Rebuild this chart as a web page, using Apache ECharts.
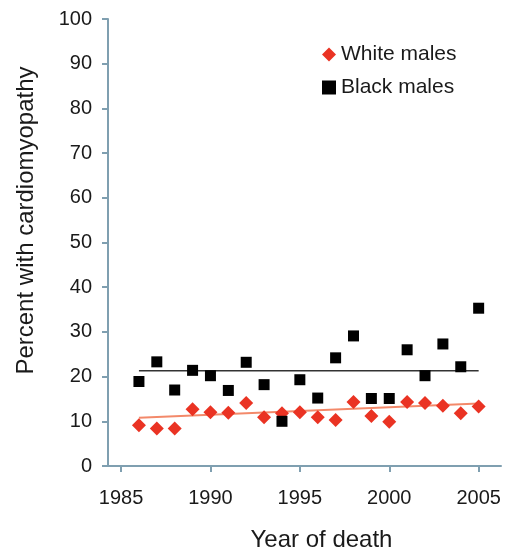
<!DOCTYPE html>
<html><head><meta charset="utf-8">
<script src="https://cdn.jsdelivr.net/npm/echarts@6/dist/echarts.min.js"></script>
<style>html,body{margin:0;padding:0;background:#fff}#c{width:514px;height:557px}</style>
</head><body><div id="c"></div>
<script>
const years = [1986,1987,1988,1989,1990,1991,1992,1993,1994,1995,1996,1997,1998,1999,2000,2001,2002,2003,2004,2005];
const whiteMales = [9.1,8.4,8.4,12.7,12.0,11.9,14.1,10.9,11.8,12.0,10.9,10.3,14.3,11.2,9.9,14.3,14.1,13.5,11.8,13.3];
const blackMales = [18.9,23.3,17.0,21.4,20.2,16.9,23.2,18.2,10.0,19.3,15.2,24.2,29.1,15.1,15.1,26.0,20.2,27.3,22.2,35.3];
const whiteTrend = [[1986,10.8],[2005,14.0]];
const blackTrend = [[1986,21.3],[2005,21.3]];
const xTicks = [1985,1990,1995,2000,2005];

const axisColor = '#7f9fb0';
const font = 'Liberation Sans, Arial, sans-serif';
const txt = '#1a1a1a';
const chart = echarts.init(document.getElementById('c'));
chart.setOption({
  animation:false,
  backgroundColor:'#fff',
  grid:{left:108,top:19,right:13,bottom:87,containLabel:false},
  legend:{
    data:[{name:'White males',icon:'diamond'},{name:'Black males',icon:'rect'}],
    orient:'vertical', left:317, top:39, itemWidth:14, itemHeight:14, itemGap:12,
    textStyle:{fontFamily:font,fontSize:21,color:txt}
  },
  xAxis:{
    type:'value', min:1984.27, max:2006.25,
    splitLine:{show:false},
    axisLine:{lineStyle:{color:axisColor,width:2}},
    axisTick:{show:true,customValues:xTicks,length:6,lineStyle:{color:axisColor,width:2}},
    axisLabel:{customValues:xTicks,margin:22,fontFamily:font,fontSize:20,color:txt,
      formatter:v=>String(v)},
    name:'Year of death', nameLocation:'middle', nameGap:62,
    nameTextStyle:{fontFamily:font,fontSize:24,color:txt,padding:[0,0,0,34]}
  },
  yAxis:{
    type:'value', min:0, max:100, interval:10,
    splitLine:{show:false},
    axisLine:{show:true,lineStyle:{color:axisColor,width:2}},
    axisTick:{show:true,length:6,lineStyle:{color:axisColor,width:2}},
    axisLabel:{margin:16,fontFamily:font,fontSize:20,color:txt},
    name:'Percent with cardiomyopathy', nameLocation:'middle', nameGap:70,
    nameTextStyle:{fontFamily:font,fontSize:24,color:txt,padding:[0,0,0,44]}
  },
  series:[
    {name:'whiteTrend',type:'line',data:whiteTrend,symbol:'none',silent:true,z:1,
     lineStyle:{color:'#f3896a',width:2}},
    {name:'blackTrend',type:'line',data:blackTrend,symbol:'none',silent:true,z:1,
     lineStyle:{color:'#333',width:1.5}},
    {name:'White males',type:'scatter',symbol:'diamond',symbolSize:14,z:3,
     itemStyle:{color:'#ea3323',opacity:1},
     data:years.map((y,i)=>[y,whiteMales[i]])},
    {name:'Black males',type:'scatter',symbol:'rect',symbolSize:11,z:3,
     itemStyle:{color:'#000',opacity:1},
     data:years.map((y,i)=>[y,blackMales[i]])}
  ]
});
</script></body></html>
